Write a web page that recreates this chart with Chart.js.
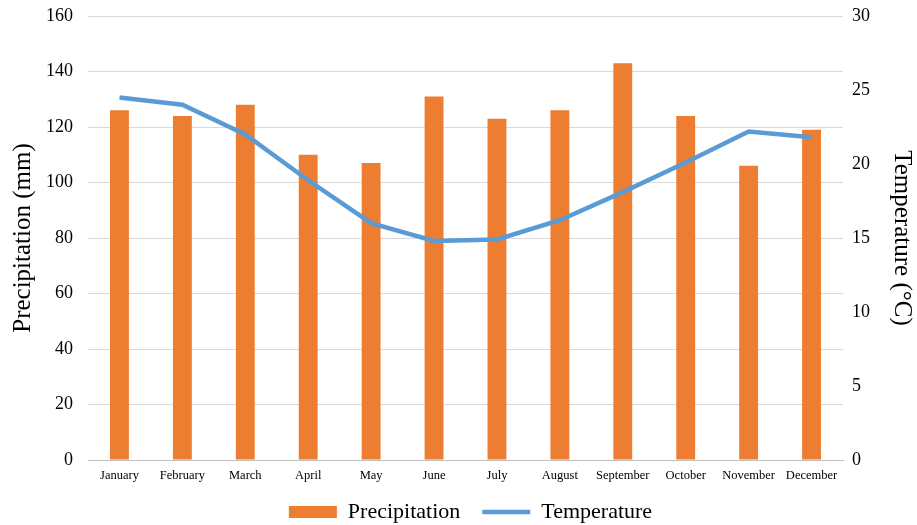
<!DOCTYPE html>
<html>
<head>
<meta charset="utf-8">
<script src="https://cdn.jsdelivr.net/npm/chart.js@4"></script>
<style>
  html, body { margin: 0; padding: 0; background: #fff; }
  #wrap { width: 917px; height: 525px; }
</style>
</head>
<body>
<div id="wrap"><canvas id="c" width="917" height="525"></canvas></div>
<script>
const months = ['January', 'February', 'March', 'April', 'May', 'June',
  'July', 'August', 'September', 'October', 'November', 'December'];
const precipitation = [126, 124, 128, 110, 107, 131, 123, 126, 143, 124, 106, 119];
const temperature = [24.5, 24.0, 22.0, 18.9, 16.0, 14.8, 14.9, 16.2, 18.1, 20.1, 22.2, 21.8];

const serif = "'Liberation Serif', 'Times New Roman', serif";

// move the bottom legend a bit up and to the right once the layout is known
const legendShift = {
  id: 'legendShift',
  afterLayout(chart) {
    const lg = chart.legend;
    if (!lg) return;
    lg.left += 8; lg.right += 8;
    lg.top -= 13; lg.bottom -= 13;
  }
};

// value axes: let the plot area reach the layout padding at the top
function valueAxisFit(width) {
  return function (s) {
    s.width = width;
    s.paddingTop = 0;
    s.paddingBottom = 0;
  };
}

new Chart(document.getElementById('c'), {
  data: {
    labels: months,
    datasets: [
      {
        type: 'line',
        label: 'Temperature',
        data: temperature,
        yAxisID: 'yT',
        borderColor: '#5B9BD5',
        backgroundColor: '#5B9BD5',
        borderWidth: 4.5,
        pointRadius: 0,
        pointStyle: 'line',
        tension: 0,
        order: 0
      },
      {
        type: 'bar',
        label: 'Precipitation',
        data: precipitation,
        yAxisID: 'yP',
        backgroundColor: '#ED7D31',
        borderWidth: 0,
        pointStyle: 'rect',
        categoryPercentage: 1,
        barPercentage: 0.3,
        order: 1
      }
    ]
  },
  plugins: [legendShift],
  options: {
    responsive: false,
    animation: false,
    layout: { padding: { top: 16, left: 8, right: 0, bottom: -21 } },
    plugins: {
      tooltip: { enabled: false },
      legend: {
        position: 'bottom',
        reverse: true,
        labels: {
          usePointStyle: true,
          pointStyleWidth: 48,
          boxHeight: 12,
          padding: 22,
          color: '#000',
          font: { family: serif, size: 22 }
        }
      }
    },
    scales: {
      x: {
        grid: { display: false, drawTicks: false },
        border: { color: '#BFBFBF', width: 1 },
        ticks: { color: '#000', font: { family: serif, size: 12.5 }, maxRotation: 0, autoSkip: false, padding: 8 },
        afterFit(s) { s.height = 32; }
      },
      yP: {
        position: 'left',
        min: 0, max: 160,
        ticks: { stepSize: 20, color: '#000', font: { family: serif, size: 18 }, padding: 15 },
        grid: { color: '#D9D9D9', drawTicks: false },
        border: { display: false },
        title: { display: true, text: 'Precipitation (mm)', color: '#000', font: { family: serif, size: 25 }, padding: { top: 0, bottom: 0 } },
        afterFit: valueAxisFit(80)
      },
      yT: {
        position: 'right',
        min: 0, max: 30,
        ticks: { stepSize: 5, color: '#000', font: { family: serif, size: 18 }, padding: 9 },
        grid: { display: false, drawTicks: false },
        border: { display: false },
        title: { display: true, text: 'Temperature (°C)', color: '#000', font: { family: serif, size: 25 }, padding: { top: 0, bottom: 0 } },
        afterFit: valueAxisFit(74)
      }
    }
  }
});
</script>
</body>
</html>
